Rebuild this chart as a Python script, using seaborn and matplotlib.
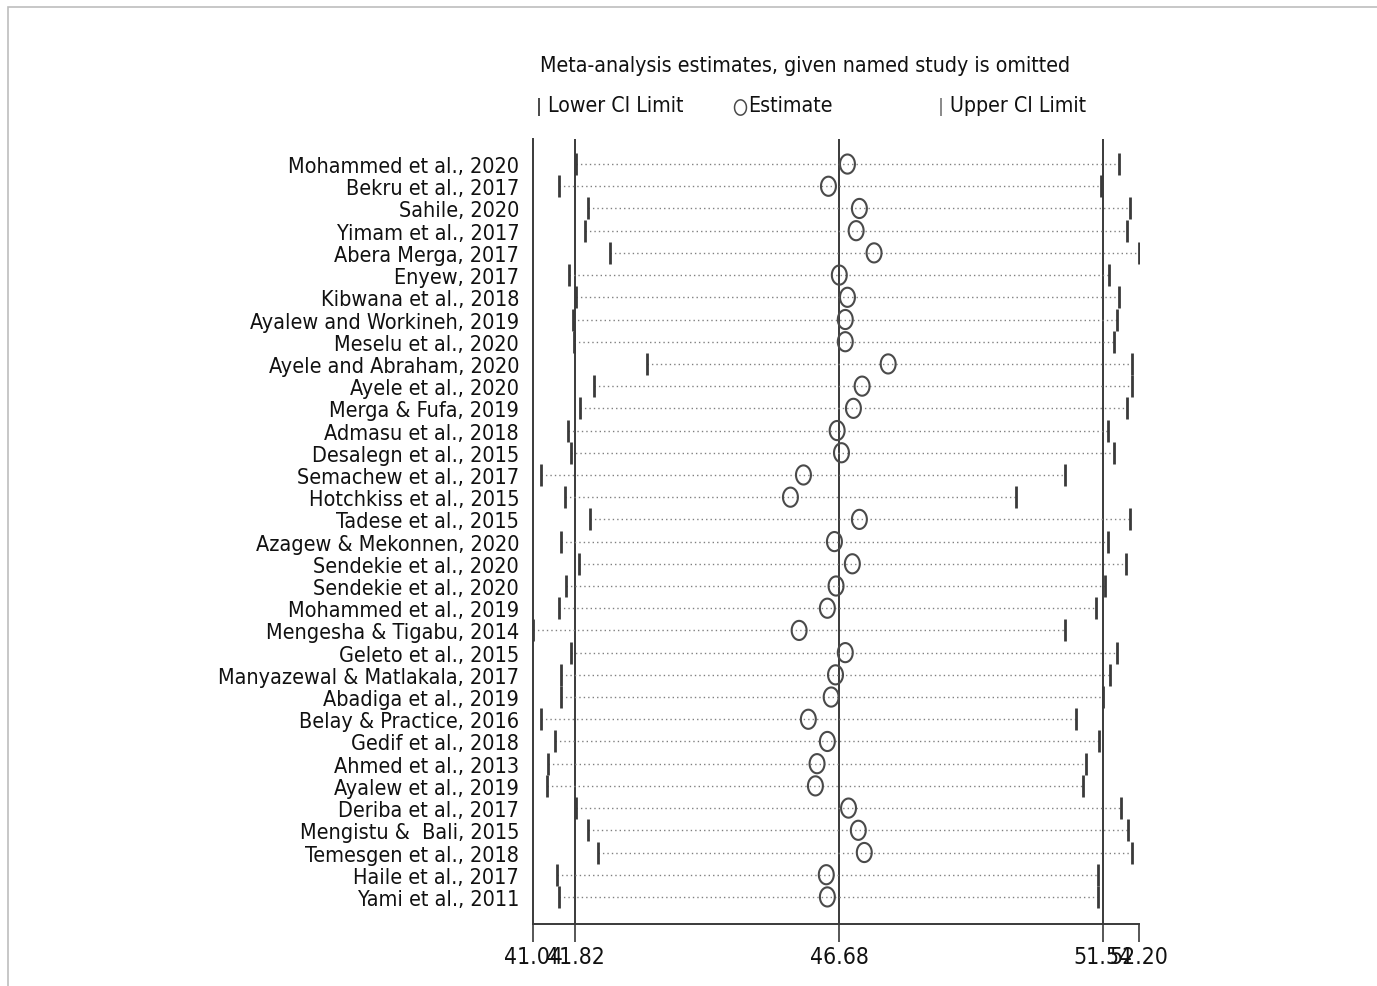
import matplotlib

matplotlib.use("Agg")
import matplotlib.pyplot as plt
import numpy as np
import pandas as pd
import seaborn as sns
from matplotlib import font_manager
from matplotlib.lines import Line2D
from matplotlib.markers import MarkerStyle
from matplotlib.path import Path
from matplotlib.patches import Rectangle

# --------------------------------------------------------------------------- #
# Data
# --------------------------------------------------------------------------- #
studies = [
    "Mohammed et al., 2020", "Bekru et al., 2017", "Sahile, 2020",
    "Yimam et al., 2017", "Abera Merga, 2017", "Enyew, 2017",
    "Kibwana et al., 2018", "Ayalew and Workineh, 2019", "Meselu et al., 2020",
    "Ayele and Abraham, 2020", "Ayele et al., 2020", "Merga & Fufa, 2019",
    "Admasu et al., 2018", "Desalegn et al., 2015", "Semachew et al., 2017",
    "Hotchkiss et al., 2015", "Tadese et al., 2015", "Azagew & Mekonnen, 2020",
    "Sendekie et al., 2020", "Sendekie et al., 2020", "Mohammed et al., 2019",
    "Mengesha & Tigabu, 2014", "Geleto et al., 2015",
    "Manyazewal & Matlakala, 2017", "Abadiga et al., 2019",
    "Belay & Practice, 2016", "Gedif et al., 2018", "Ahmed et al., 2013",
    "Ayalew et al., 2019", "Deriba et al., 2017", "Mengistu &  Bali, 2015",
    "Temesgen et al., 2018", "Haile et al., 2017", "Yami et al., 2011",
]
estimate = [
    46.83, 46.48, 47.05, 46.99, 47.32, 46.68, 46.83, 46.79, 46.79, 47.58,
    47.10, 46.94, 46.64, 46.72, 46.02, 45.78, 47.05, 46.59, 46.92, 46.62,
    46.46, 45.94, 46.79, 46.61, 46.53, 46.11, 46.46, 46.27, 46.24, 46.85,
    47.03, 47.14, 46.44, 46.46,
]
lower = [
    41.84, 41.51, 42.06, 42.00, 42.45, 41.71, 41.83, 41.78, 41.80, 43.13,
    42.17, 41.91, 41.69, 41.73, 41.19, 41.62, 42.08, 41.56, 41.89, 41.65,
    41.51, 41.04, 41.73, 41.56, 41.56, 41.19, 41.45, 41.32, 41.30, 41.84,
    42.06, 42.24, 41.49, 41.51,
]
upper = [
    51.83, 51.50, 52.04, 51.98, 52.20, 51.65, 51.83, 51.80, 51.74, 52.07,
    52.07, 51.98, 51.63, 51.74, 50.84, 49.94, 52.04, 51.63, 51.96, 51.58,
    51.41, 50.84, 51.80, 51.67, 51.54, 51.04, 51.47, 51.23, 51.17, 51.87,
    52.00, 52.07, 51.45, 51.45,
]
overall = [41.82, 46.68, 51.54]
x_ticks = [41.04, 41.82, 46.68, 51.54, 52.20]
tick_labels = ["41.04", "41.82", "46.68", "51.54", "52.20"]

# --------------------------------------------------------------------------- #
# Style
# --------------------------------------------------------------------------- #
sns.set_theme(style="white")


def find_narrow_font():
    """Look for an installed condensed / narrow sans face."""
    wanted = ["LiberationSansNarrow-Regular", "DejaVuSansCondensed.ttf",
              "RobotoCondensed-Regular", "OpenSans_Condensed-Regular",
              "OpenSansCondensed", "NotoSans-Condensed.", "NotoSansCondensed-Regular"]
    files = [f.fname for f in font_manager.fontManager.ttflist]
    for key in wanted:
        for fname in files:
            if key in fname:
                return fname
    for fname in files:
        low = fname.lower()
        if ("condensed" in low or "narrow" in low) and "bold" not in low \
                and "italic" not in low and "light" not in low \
                and "semi" not in low and "extra" not in low and "mono" not in low:
            return fname
    return None


narrow = find_narrow_font()
if narrow:
    FP = font_manager.FontProperties(fname=narrow)
    FS, FS_X, FS_T = 15.5, 16.5, 15.3
else:
    FP = font_manager.FontProperties(family=["Liberation Sans", "DejaVu Sans"])
    FS, FS_X, FS_T = 16, 16.5, 15.5
plt.rcParams["font.family"] = ["Liberation Sans", "DejaVu Sans"]

LINE = "#3a3a3a"
DOT = "#808080"
CIRC = "#4a4a4a"
TEXT = "#111111"

df = pd.DataFrame({"study": studies, "estimate": estimate,
                   "lower": lower, "upper": upper})
df["row"] = np.arange(len(df))

# slightly tall ellipse marker, like the stretched Stata circle
theta = np.linspace(0, 2 * np.pi, 60)
ellipse = Path(np.column_stack([0.78 * np.cos(theta), np.sin(theta)]), closed=True)

fig = plt.figure(figsize=(13.77, 9.87), dpi=100)
ax = fig.add_axes([0.3871, 0.0628, 0.4401, 0.7954])

for v in overall:
    ax.axvline(v, color=LINE, lw=1.4, zorder=1)

ax.hlines(df["row"], df["lower"], df["upper"], color=DOT, lw=1.0,
          linestyles=(0, (1, 2.2)), zorder=2)
sns.scatterplot(data=df, x="lower", y="row", marker="|", s=230,
                color=LINE, linewidth=2.0, ax=ax, zorder=3, legend=False)
sns.scatterplot(data=df, x="upper", y="row", marker="|", s=230,
                color=LINE, linewidth=2.0, ax=ax, zorder=3, legend=False)
sns.scatterplot(data=df, x="estimate", y="row", marker=MarkerStyle(ellipse),
                s=190, facecolor="none", edgecolor=CIRC, linewidth=1.5,
                ax=ax, zorder=4, legend=False)

ax.set_xlim(41.04, 52.20)
ax.set_ylim(len(df) - 1 + 1.22, -1.13)
ax.set_yticks(df["row"])
ax.set_yticklabels(df["study"], fontproperties=FP, fontsize=FS)
ax.set_xticks(x_ticks)
ax.set_xticklabels(tick_labels, fontproperties=FP, fontsize=FS_X)
ax.tick_params(axis="y", length=0, pad=10)
ax.tick_params(axis="x", length=13, width=1.2, color=LINE, direction="out",
               pad=2, bottom=True)
ax.set_xlabel("")
ax.set_ylabel("")
for side in ["top", "right"]:
    ax.spines[side].set_visible(False)
for side in ["left", "bottom"]:
    ax.spines[side].set_color(LINE)
    ax.spines[side].set_linewidth(1.4)
for lab in ax.get_yticklabels() + ax.get_xticklabels():
    lab.set_color(TEXT)

# title and legend row
fig.text(0.392, 0.933, "Meta-analysis estimates, given named study is omitted",
         fontproperties=FP, fontsize=FS_T, ha="left", va="center", color=TEXT)
fig.text(0.398, 0.893, "Lower CI Limit", fontproperties=FP, fontsize=FS_T,
         ha="left", va="center", color=TEXT)
fig.text(0.5432, 0.893, "Estimate", fontproperties=FP, fontsize=FS_T,
         ha="left", va="center", color=TEXT)
fig.text(0.690, 0.893, "Upper CI Limit", fontproperties=FP, fontsize=FS_T,
         ha="left", va="center", color=TEXT)
fig.add_artist(Line2D([0.3914], [0.891], marker="|", markersize=13,
                      markeredgewidth=1.3, color=LINE, transform=fig.transFigure))
fig.add_artist(Line2D([0.5374], [0.891], marker=MarkerStyle(ellipse),
                      markersize=11, markeredgewidth=1.1, markerfacecolor="none",
                      markeredgecolor=CIRC, transform=fig.transFigure))
fig.add_artist(Line2D([0.6834], [0.891], marker="|", markersize=13,
                      markeredgewidth=1.3, color=DOT, transform=fig.transFigure))

# light outer frame
fig.add_artist(Rectangle((0.006, -0.01), 1.0, 1.002, transform=fig.transFigure,
                         fill=False, edgecolor="#bdbdbd", lw=1.2))

fig.savefig("out.png", dpi=100)
